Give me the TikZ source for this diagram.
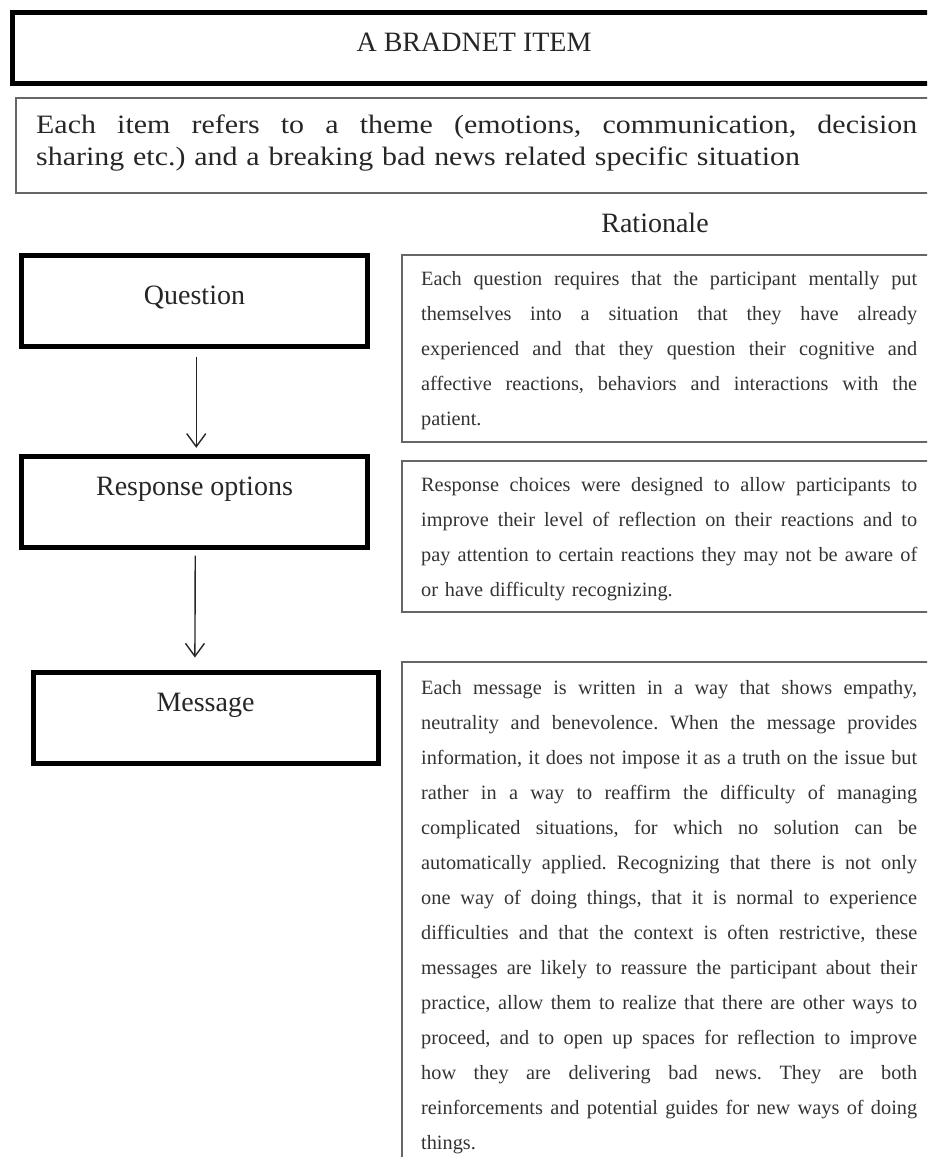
\documentclass[tikz,border=0pt]{standalone}
\usepackage{fontspec}
\setmainfont{Liberation Serif}
\newfontfamily\widefont[FakeStretch=1.13]{Liberation Serif}
\usetikzlibrary{arrows.meta}
\setlength{\parindent}{0pt}
\frenchspacing
\newlength\rw
\setlength\rw{496pt}
\newcommand\jline[1]{\leavevmode\hbox to\rw{\spaceskip=0.25em plus 20em minus 0.05em\xspaceskip=\spaceskip #1}\\}
\begin{document}
\begin{tikzpicture}[x=1pt,y=-1pt,
  tbox/.style={draw=black, line width=5pt, inner sep=0pt},
  gbox/.style={draw=black!60, line width=1.8pt, inner sep=0pt},
  bigtext/.style={inner sep=0pt, anchor=base, text=black!85, font=\fontsize{28}{34}\selectfont},
  bodytext/.style={inner sep=0pt, anchor=north west, text width=\rw, align=left, text=black!80, font=\fontsize{20.3}{35}\selectfont},
  arr/.style={draw=black!85, line width=1.4pt, -{Straight Barb[length=13pt,width=19pt,line width=1.4pt]}}]
\useasboundingbox (0,0) rectangle (927,1157);
\clip (0,0) rectangle (927,1157);

% title
\node[tbox, minimum width=925pt, minimum height=71pt] (title) at (474.5,47.5) {};
\node[bigtext] (titletext) at (474,51) {A BRADNET ITEM};

% theme box
\node[gbox, minimum width=921pt, minimum height=95pt] (theme) at (476.5,145.5) {};
\node[inner sep=0pt, anchor=north west, text width=881pt, align=left, text=black!85,
      font=\widefont\fontsize{26.5}{32}\selectfont] (themetext) at (36,109)
  {\leavevmode\hbox to 881pt{\spaceskip=0.25em plus 20em minus 0.05em\rule{0pt}{24pt}Each item refers to a theme (emotions, communication, decision}\\
   sharing etc.) and a breaking bad news related specific situation};

% rationale heading
\node[bigtext] (rat) at (655,232) {Rationale};

% left flow boxes
\node[tbox, minimum width=345.5pt, minimum height=90.5pt] (q) at (194.25,300.75) {};
\node[bigtext] (qt) at (194.5,304) {Question};
\node[tbox, minimum width=345.5pt, minimum height=90.7pt] (r) at (194.25,501.65) {};
\node[bigtext] (rt) at (194.5,495) {Response options};
\node[tbox, minimum width=344.8pt, minimum height=91pt] (m) at (205.9,718) {};
\node[bigtext] (mt) at (205.5,711.7) {Message};

% arrows
\coordinate (q-out) at ([xshift=2pt,yshift=-8pt]q.south);
\coordinate (r-in) at ([xshift=2pt,yshift=6pt]r.north);
\coordinate (r-out) at ([xshift=1pt,yshift=-6pt]r.south);
\coordinate (m-in) at ([xshift=-11pt,yshift=12.5pt]m.north);
\draw[arr] (q-out) -- (r-in);
\draw[arr] (r-out) -- (m-in);

% rationale boxes
\node[gbox, minimum width=535.3pt, minimum height=187pt] (b1) at (669.35,348.5) {};
\node[bodytext] (b1t) at (421,265) {%
\jline{\rule{0pt}{20pt}Each question requires that the participant mentally put}
\jline{themselves into a situation that they have already}
\jline{experienced and that they question their cognitive and}
\jline{affective reactions, behaviors and interactions with the}
patient.};

\node[gbox, minimum width=535.3pt, minimum height=151pt] (b2) at (669.35,536.2) {};
\node[bodytext] (b2t) at (421,471.7) {%
\jline{\rule{0pt}{20pt}Response choices were designed to allow participants to}
\jline{improve their level of reflection on their reactions and to}
\jline{pay attention to certain reactions they may not be aware of}
or have difficulty recognizing.};

\node[gbox, minimum width=535.3pt, minimum height=508.3pt] (b3) at (669.35,915.85) {};
\node[bodytext] (b3t) at (421,674.3) {%
\jline{\rule{0pt}{20pt}Each message is written in a way that shows empathy,}
\jline{neutrality and benevolence. When the message provides}
\jline{information, it does not impose it as a truth on the issue but}
\jline{rather in a way to reaffirm the difficulty of managing}
\jline{complicated situations, for which no solution can be}
\jline{automatically applied. Recognizing that there is not only}
\jline{one way of doing things, that it is normal to experience}
\jline{difficulties and that the context is often restrictive, these}
\jline{messages are likely to reassure the participant about their}
\jline{practice, allow them to realize that there are other ways to}
\jline{proceed, and to open up spaces for reflection to improve}
\jline{how they are delivering bad news. They are both}
\jline{reinforcements and potential guides for new ways of doing}
things.};
\end{tikzpicture}
\end{document}
